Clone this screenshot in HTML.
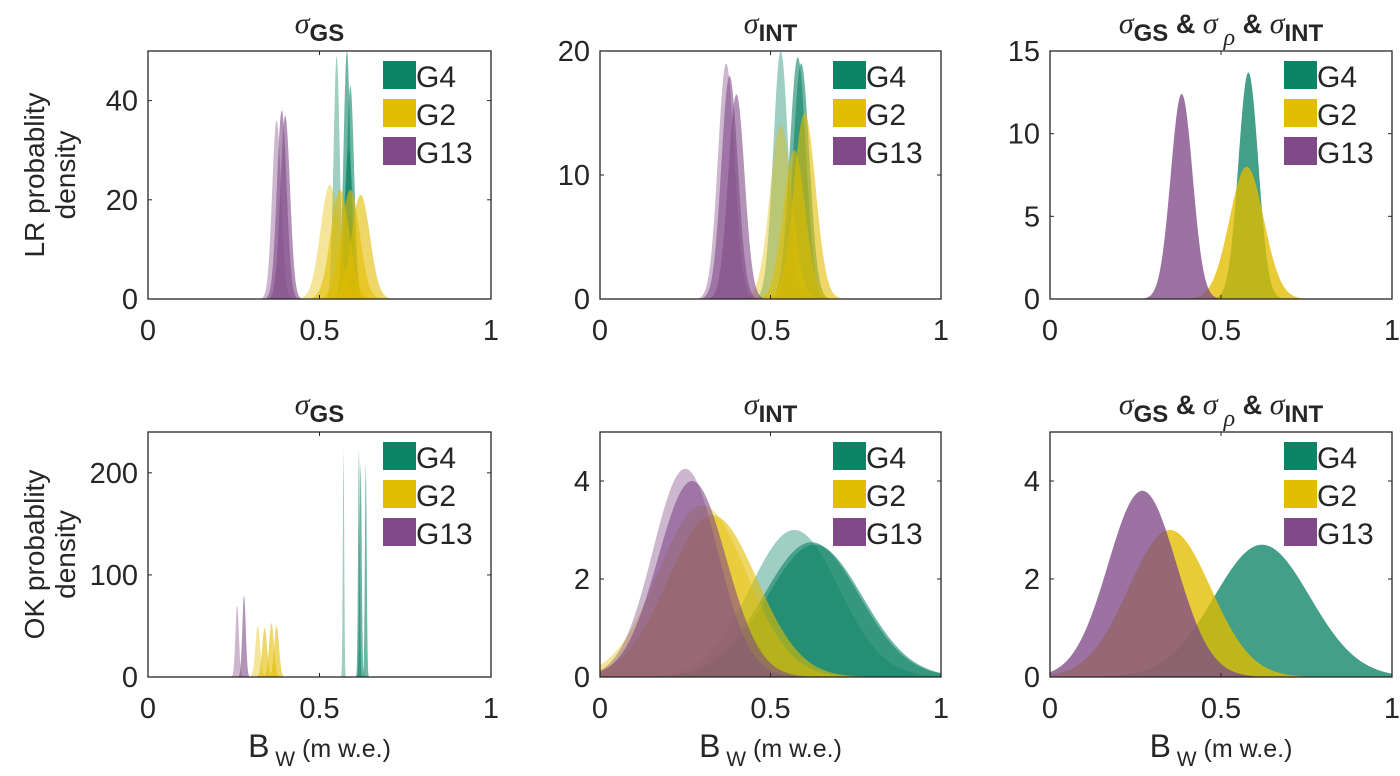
<!DOCTYPE html>
<html><head><meta charset="utf-8"><style>
body{margin:0;background:#fff;}
svg text{font-family:"Liberation Sans",sans-serif;fill:#262626;}
</style></head><body>
<svg id="fig" width="1400" height="771" xmlns="http://www.w3.org/2000/svg"></svg>
<script>
// Each curve: [mean, sd, peak]
const p1G4=[[0.55,0.009,49],[0.58,0.010,50],[0.59,0.011,43],[0.585,0.013,30]];
const p1G2=[[0.53,0.027,23],[0.56,0.027,22],[0.59,0.027,22],[0.62,0.027,21]];
const p1G13=[[0.375,0.013,36],[0.39,0.014,38],[0.40,0.014,37]];
const p2G4=[[0.53,0.022,20],[0.58,0.024,19.5],[0.59,0.024,19]];
const p2G2=[[0.53,0.032,14],[0.57,0.032,12],[0.60,0.032,15]];
const p2G13=[[0.37,0.024,19],[0.38,0.024,18],[0.40,0.024,16.5]];
const p3G4=[[0.58,0.029,13.7]];
const p3G2=[[0.575,0.05,8]];
const p3G13=[[0.385,0.032,12.4]];
const p4G4=[[0.57,0.002,225],[0.615,0.0025,225],[0.62,0.003,210],[0.635,0.0025,212]];
const p4G2=[[0.32,0.007,50],[0.34,0.007,48],[0.36,0.007,53],[0.375,0.007,50]];
const p4G13=[[0.26,0.005,70],[0.28,0.005,80]];
const p5G4=[[0.57,0.13,3.0],[0.62,0.14,2.75],[0.63,0.14,2.7]];
const p5G2=[[0.30,0.13,3.5],[0.33,0.13,3.3]];
const p5G13=[[0.25,0.095,4.25],[0.27,0.1,4.0]];
const p6G4=[[0.62,0.14,2.7]];
const p6G2=[[0.35,0.12,3.0]];
const p6G13=[[0.27,0.1,3.8]];
const yTicks1=[0,20,40], yTicks2=[0,10,20], yTicks3=[0,5,10,15];
const yTicks4=[0,100,200], yTicks5=[0,2,4], yTicks6=[0,2,4];
const xTicks=[0,0.5,1];
const xTickLabels=["0","0.5","1"];
const legendLabels=["G4","G2","G13"];
const colors=["#0e8466","#e3bd00","#7f4a87"];
const NS="http://www.w3.org/2000/svg";
const svg=document.getElementById('fig');
function el(t,a,p){const e=document.createElementNS(NS,t);for(const k in a)e.setAttribute(k,a[k]);(p||svg).appendChild(e);return e;}
const panels=[
 {x0:148,x1:491,y0:51,y1:299,ymax:50,yt:yTicks1,s:[p1G4,p1G2,p1G13],t:"gs",yl:"LR"},
 {x0:600,x1:941,y0:51,y1:299,ymax:20,yt:yTicks2,s:[p2G4,p2G2,p2G13],t:"int"},
 {x0:1050,x1:1392,y0:51,y1:299,ymax:15,yt:yTicks3,s:[p3G4,p3G2,p3G13],t:"all"},
 {x0:148,x1:491,y0:432,y1:677,ymax:240,yt:yTicks4,s:[p4G4,p4G2,p4G13],t:"gs",yl:"OK",xl:1},
 {x0:600,x1:941,y0:432,y1:677,ymax:5,yt:yTicks5,s:[p5G4,p5G2,p5G13],t:"int",xl:1},
 {x0:1050,x1:1392,y0:432,y1:677,ymax:5,yt:yTicks6,s:[p6G4,p6G2,p6G13],t:"all",xl:1}
];
panels.forEach((P,pi)=>{
 const g=el('g',{});
 
 
 const sx=v=>P.x0+v*(P.x1-P.x0), sy=v=>P.y1-v/P.ymax*(P.y1-P.y0);
 const clip=el('clipPath',{id:'c'+pi},g);el('rect',{x:P.x0,y:P.y0,width:P.x1-P.x0,height:P.y1-P.y0},clip);
 const cg=el('g',{'clip-path':'url(#c'+pi+')'},g);
 P.s.forEach((series,si)=>{
  series.forEach((c,ci)=>{
   let d='M'+sx(0)+','+sy(0);
   for(let i=0;i<=800;i++){const x=i/800;const y=c[2]*Math.exp(-0.5*((x-c[0])/c[1])**2);d+=' L'+sx(x).toFixed(2)+','+sy(y).toFixed(2);}
   d+=' L'+sx(1)+','+sy(0)+' Z';
   const op=series.length>1?(ci==0?0.4:0.6):0.78;
   const pth=el('path',{d:d,fill:colors[si],'fill-opacity':op},cg);
   
   
  });
 });
 el('rect',{x:P.x0,y:P.y0,width:P.x1-P.x0,height:P.y1-P.y0,fill:'none',stroke:'#262626','stroke-width':1.3},g);
 P.yt.forEach(v=>{
  el('line',{x1:P.x0,x2:P.x0+4,y1:sy(v),y2:sy(v),stroke:'#262626'},g);
  el('line',{x1:P.x1,x2:P.x1-4,y1:sy(v),y2:sy(v),stroke:'#262626'},g);
  const t=el('text',{x:P.x0-10,y:sy(v)+10,'text-anchor':'end','font-size':29},g);t.textContent=v;
  
 });
 xTicks.forEach((v,i)=>{
  el('line',{x1:sx(v),x2:sx(v),y1:P.y1,y2:P.y1-4,stroke:'#262626'},g);
  el('line',{x1:sx(v),x2:sx(v),y1:P.y0,y2:P.y0+4,stroke:'#262626'},g);
  const t=el('text',{x:sx(v),y:P.y1+41,'text-anchor':'middle','font-size':29},g);t.textContent=xTickLabels[i];
  
 });
 legendLabels.forEach((L,i)=>{
  const ly=P.y0+10+i*38;
  const r=el('rect',{x:P.x1-108,y:ly,width:33,height:28,fill:colors[i]},g);
  
  const t=el('text',{x:P.x1-75,y:ly+26,'font-size':30,fill:'#000'},g);t.textContent=L;
  
 });
 const cx=(P.x0+P.x1)/2, ty=P.y0-18;
 let html;
 const sg='<tspan font-family="Liberation Serif" font-style="italic" font-size="30">σ</tspan>';
 if(P.t=="gs") html=sg+'<tspan font-weight="bold" font-size="24" dy="8">GS</tspan>';
 else if(P.t=="int") html=sg+'<tspan font-weight="bold" font-size="24" dy="8">INT</tspan>';
 else html=sg+'<tspan font-weight="bold" font-size="24" dy="8">GS</tspan><tspan font-weight="bold" font-size="27" dy="-8"> &amp; </tspan>'+sg+'<tspan font-family="Liberation Serif" font-style="italic" font-size="24" dy="12"> ρ</tspan><tspan font-weight="bold" font-size="27" dy="-12"> &amp; </tspan>'+sg+'<tspan font-weight="bold" font-size="24" dy="8">INT</tspan>';
 const tt=el('text',{x:cx,y:ty,'text-anchor':'middle',fill:'#000'},g);tt.innerHTML=html;
 
 if(P.yl){
  const yl=el('text',{transform:'translate(44,'+((P.y0+P.y1)/2)+') rotate(-90)','text-anchor':'middle','font-size':28},g);
  yl.innerHTML='<tspan x="0" dy="0">'+P.yl+' probablity</tspan><tspan x="0" dy="31">density</tspan>';
  
 }
 if(P.xl){
  const xl=el('text',{x:cx,y:P.y1+80,'text-anchor':'middle',fill:'#000'},g);
  xl.innerHTML='<tspan font-size="32">B</tspan><tspan font-size="21" dy="9"> W</tspan><tspan font-size="25" dy="-9"> (m w.e.)</tspan>';
  
 }
});
</script>
</body></html>
